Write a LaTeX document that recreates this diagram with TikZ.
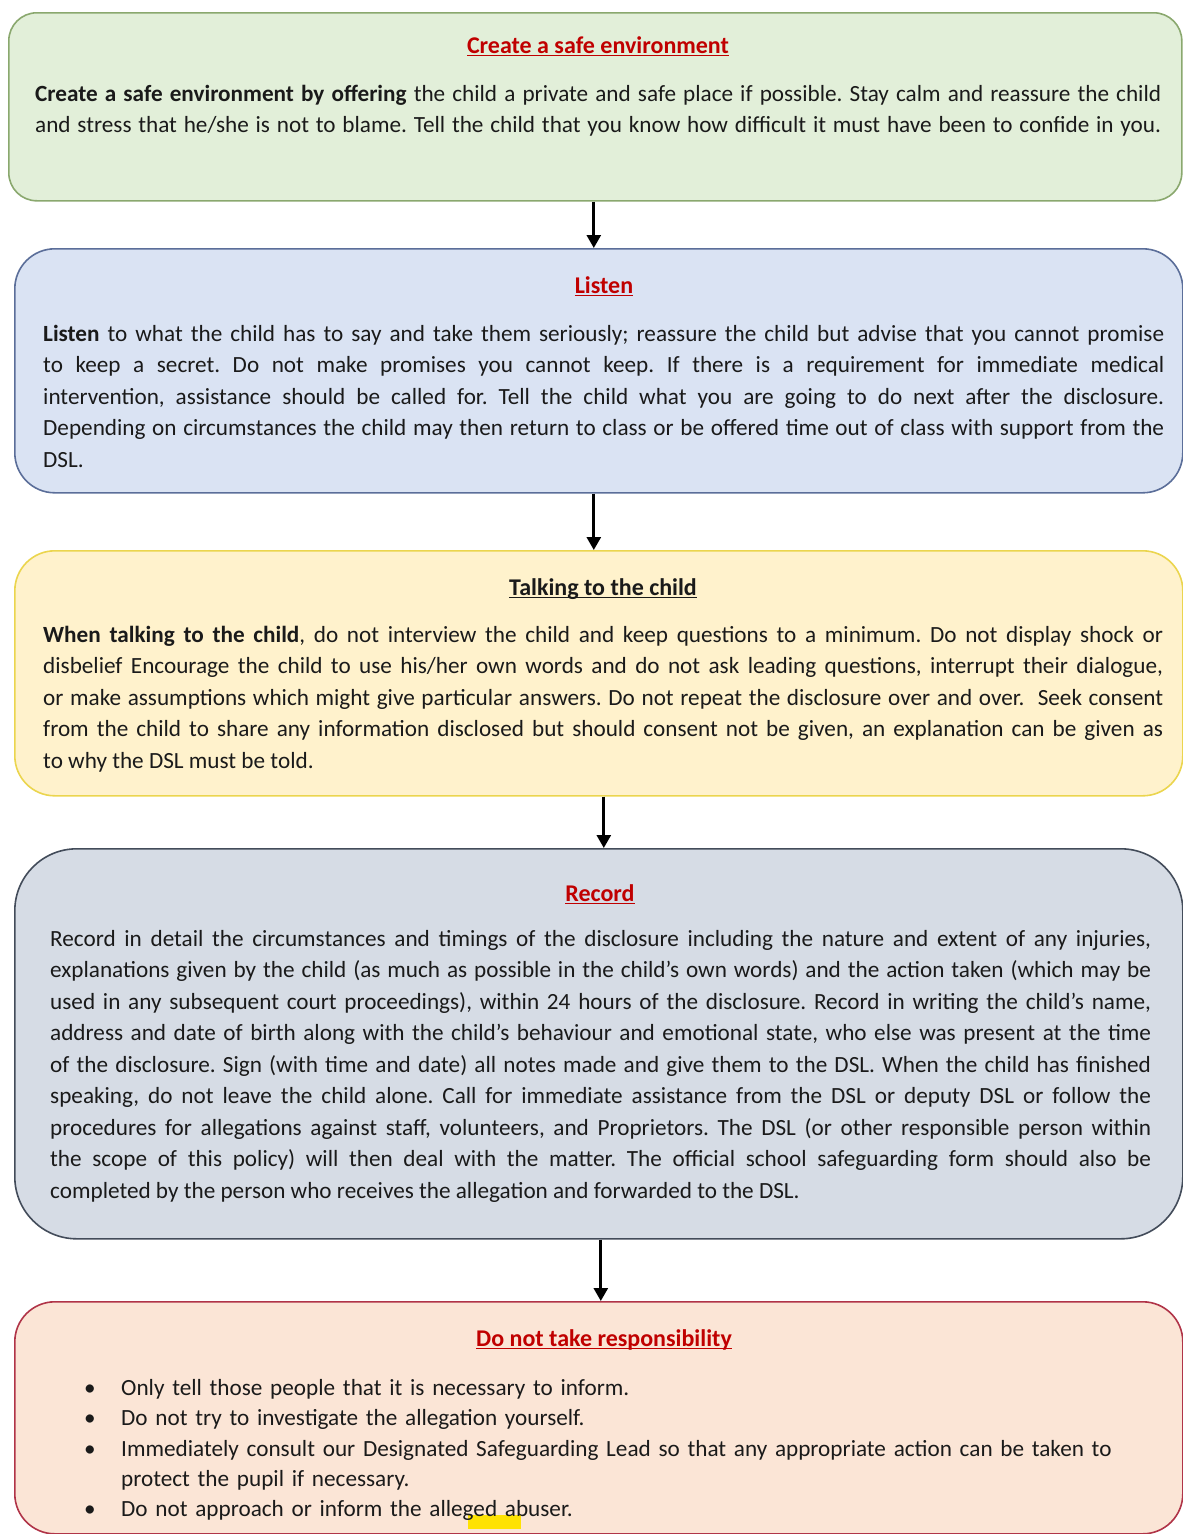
\documentclass[tikz,border=0pt]{standalone}
\usepackage{fontspec}
\setmainfont{Carlito}
\usetikzlibrary{arrows.meta}
\definecolor{gfill}{HTML}{E2EFD9}
\definecolor{gline}{HTML}{8AA86E}
\definecolor{bfill}{HTML}{DAE3F3}
\definecolor{bline}{HTML}{5B6E99}
\definecolor{yfill}{HTML}{FFF2CC}
\definecolor{yline}{HTML}{EBD54E}
\definecolor{dfill}{HTML}{D6DCE5}
\definecolor{dline}{HTML}{434C5A}
\definecolor{rfill}{HTML}{FBE5D6}
\definecolor{rline}{HTML}{B03448}
\definecolor{headred}{HTML}{C00000}
\definecolor{txt}{HTML}{1A1A1A}
\newcommand{\myul}[1]{\setbox0\hbox{#1}\rlap{\rule[-3pt]{\wd0}{1.4pt}}\box0}
\newcommand{\bodysize}{\fontsize{23.2}{31.5}\selectfont\frenchspacing}
\newcommand{\listsize}{\fontsize{23.2}{30.3}\selectfont\frenchspacing}
\newcommand{\headsize}{\fontsize{24}{31.5}\selectfont}
\begin{document}
\begin{tikzpicture}[x=1pt,y=-1pt,
  box/.style={draw, line width=1.6pt, anchor=north west, inner sep=0pt, minimum width=1168pt},
  head/.style={anchor=base, inner sep=0pt, font=\headsize\bfseries},
  body/.style={anchor=north west, inner sep=0pt, align=justify, font=\bodysize, text=txt},
  arr/.style={line width=2.8pt, -{Triangle[length=13pt,width=14pt]}}]
\useasboundingbox (0,0) rectangle (1183,1534);
% boxes
\node[box, fill=gfill, draw=gline, rounded corners=28pt, minimum width=1173pt, minimum height=188pt] (g) at (8,12) {};
\node[box, fill=bfill, draw=bline, rounded corners=40pt, minimum height=244pt] (b) at (14,248) {};
\node[box, fill=yfill, draw=yline, rounded corners=40pt, minimum height=245pt] (y) at (14,550) {};
\node[box, fill=dfill, draw=dline, rounded corners=62pt, minimum height=390pt] (d) at (14,848) {};
\node[box, fill=rfill, draw=rline, rounded corners=40pt, minimum height=232pt] (r) at (14,1301) {};
% arrows
\draw[arr] ([xshift=-5pt]b.north |- g.south) -- ([xshift=-5pt]b.north);
\draw[arr] ([xshift=-5pt]b.south) -- ([xshift=-5pt]y.north);
\draw[arr] ([xshift=5pt]y.south) -- ([xshift=5pt]d.north);
\draw[arr] ([xshift=2pt]d.south) -- ([xshift=2pt]r.north);
% headings
\node[head, text=headred] (gh) at (598,53) {\myul{Create a safe environment}};
\node[head, text=headred] (bh) at (604,293) {\myul{Listen}};
\node[head, text=txt] (yh) at (603,595) {\myul{Talking to the child}};
\node[head, text=headred] (dh) at (600,901) {\myul{Record}};
\node[head, text=headred] (rh) at (604,1346) {\myul{Do not take responsibility}};
% bodies
\node[body, text width=1126pt] (gt) at (35,79) {\strut\textbf{Create a safe environment by offering} the child a private and safe place if possible. Stay calm and reassure the child\linebreak
and stress that he/she is not to blame. Tell the child that you know how difficult it must have been to confide in you.{\parfillskip=0pt\par}};
\node[body, text width=1121pt] (bt) at (43,319) {\strut\textbf{Listen} to what the child has to say and take them seriously; reassure the child but advise that you cannot promise\linebreak
to keep a secret. Do not make promises you cannot keep. If there is a requirement for immediate medical\linebreak
intervention, assistance should be called for. Tell the child what you are going to do next after the disclosure.\linebreak
Depending on circumstances the child may then return to class or be offered time out of class with support from the\linebreak
DSL.};
\node[body, text width=1120pt] (yt) at (43,620) {\strut\textbf{When talking to the child}, do not interview the child and keep questions to a minimum. Do not display shock or\linebreak
disbelief Encourage the child to use his/her own words and do not ask leading questions, interrupt their dialogue,\linebreak
or make assumptions which might give particular answers. Do not repeat the disclosure over and over.\ \ Seek consent\linebreak
from the child to share any information disclosed but should consent not be given, an explanation can be given as\linebreak
to why the DSL must be told.};
\node[body, text width=1101pt] (dt) at (50,924) {\strut Record in detail the circumstances and timings of the disclosure including the nature and extent of any injuries,\linebreak
explanations given by the child (as much as possible in the child’s own words) and the action taken (which may be\linebreak
used in any subsequent court proceedings), within 24 hours of the disclosure. Record in writing the child’s name,\linebreak
address and date of birth along with the child’s behaviour and emotional state, who else was present at the time\linebreak
of the disclosure. Sign (with time and date) all notes made and give them to the DSL. When the child has finished\linebreak
speaking, do not leave the child alone. Call for immediate assistance from the DSL or deputy DSL or follow the\linebreak
procedures for allegations against staff, volunteers, and Proprietors. The DSL (or other responsible person within\linebreak
the scope of this policy) will then deal with the matter. The official school safeguarding form should also be\linebreak
completed by the person who receives the allegation and forwarded to the DSL.};
% highlight
\fill[yellow!85!orange] (468,1515) rectangle (521,1529);
\node[body, align=left, text width=1080pt, font=\listsize] (rt) at (84,1374) {\strut\makebox[37pt][l]{\textbullet}Only tell those people that it is necessary to inform.\\
\makebox[37pt][l]{\textbullet}Do not try to investigate the allegation yourself.\\
\makebox[37pt][l]{\textbullet}Immediately consult our Designated Safeguarding Lead so that any appropriate action can be taken to\\
\hspace*{37pt}protect the pupil if necessary.\\
\makebox[37pt][l]{\textbullet}Do not approach or inform the alleged abuser.};
\end{tikzpicture}
\end{document}
